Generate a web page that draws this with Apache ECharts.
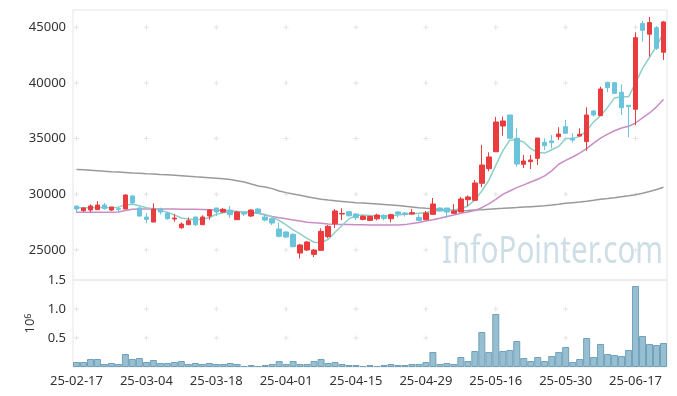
<!DOCTYPE html>
<html><head><meta charset="utf-8">
<script src="https://cdn.jsdelivr.net/npm/echarts@6/dist/echarts.min.js"></script>
<style>html,body{margin:0;padding:0;background:#fff}#c{width:677px;height:396px}</style>
</head><body><div id="c"></div>
<script>
const dates = ['25-02-17','25-02-18','25-02-19','25-02-20','25-02-21','25-02-24','25-02-25','25-02-26','25-02-27','25-02-28',
'25-03-04','25-03-05','25-03-06','25-03-07','25-03-10','25-03-11','25-03-12','25-03-13','25-03-14','25-03-17',
'25-03-18','25-03-19','25-03-20','25-03-21','25-03-24','25-03-25','25-03-26','25-03-27','25-03-28','25-03-31',
'25-04-01','25-04-02','25-04-03','25-04-04','25-04-07','25-04-08','25-04-09','25-04-10','25-04-11','25-04-14',
'25-04-15','25-04-16','25-04-17','25-04-18','25-04-21','25-04-22','25-04-23','25-04-24','25-04-25','25-04-28',
'25-04-29','25-04-30','25-05-02','25-05-07','25-05-08','25-05-09','25-05-12','25-05-13','25-05-14','25-05-15',
'25-05-16','25-05-19','25-05-20','25-05-21','25-05-22','25-05-23','25-05-26','25-05-27','25-05-28','25-05-29',
'25-05-30','25-06-02','25-06-04','25-06-05','25-06-09','25-06-10','25-06-11','25-06-12','25-06-13','25-06-16',
'25-06-17','25-06-18','25-06-19','25-06-20','25-06-23'];

const opens = [28950,28530,28590,28620,29040,28590,28710,28680,29850,28770,
27960,27510,28680,28320,27780,27000,27270,27960,27270,28050,
28770,28410,28590,27720,28320,28050,28680,27960,27810,26890,
26620,26410,24730,25000,24610,24970,26200,27360,28230,28440,
28230,27750,27660,27800,28110,27810,28410,28320,28230,27930,
27720,28200,28770,28770,28290,28410,29520,29460,30990,32300,
33820,36130,37120,35030,32690,32930,33230,34670,34790,35170,
36070,35030,35230,34730,37480,37060,40050,40020,39160,37990,
37630,45320,44370,44950,42750];
const closes = [28680,28770,28950,29040,28710,28860,28650,29940,29220,28050,
27750,28680,28410,27810,27870,27330,27630,27270,27960,28590,
28410,28650,28170,28410,28230,28590,28320,27690,27420,26230,
26170,25300,25450,25720,25000,26680,27130,28500,28290,28080,
27900,28020,28020,28140,27840,28170,28230,28200,28350,27660,
28320,29130,28500,28410,28500,29580,29760,31020,32630,33350,
36490,36580,35030,32720,32990,33080,35050,34360,34630,35410,
35480,34870,35390,37120,37120,39450,39570,39060,37770,37870,
44060,44720,45410,43100,45470];
const lows = [28320,28440,28380,28590,28620,28500,28440,28680,29130,28000,
27400,27510,28200,27720,27540,26910,27270,27150,27270,27720,
28050,28350,27870,27720,28050,27960,28230,27570,27240,26140,
26080,25240,24250,24910,24370,24970,26050,26970,27690,28000,
27690,27660,27630,27660,27660,27480,27930,27990,28200,27570,
27690,28200,28500,27870,28290,28410,28950,29400,30650,32060,
33820,35260,35030,32480,32360,32270,32630,33980,34130,34870,
35480,34630,35200,33910,36970,37060,39160,39060,37120,35120,
36200,43700,42350,42950,42060];
const highs = [28950,28860,29100,29400,29220,28860,28860,30000,29940,28860,
28320,29190,28800,28410,28230,27480,27930,27990,28110,28680,
28770,28770,28950,28500,28410,28650,28770,28230,27900,27480,
26680,26500,25540,25810,25090,26950,27240,28680,28740,28500,
28320,28110,28050,28260,28200,28260,28500,28410,28680,28200,
28500,29670,28800,28770,29130,29760,29900,31280,34430,33770,
36940,36970,37120,35920,33530,33530,35050,35030,35320,36020,
36670,35480,35920,37810,37570,39660,40100,40050,39850,38000,
44540,45550,45930,45100,45560];
const volumes = [86000,86000,138000,138000,52000,69000,52000,224000,138000,155000,
86000,121000,69000,69000,86000,103000,52000,69000,52000,69000,
52000,52000,69000,52000,17000,34000,17000,34000,52000,103000,
52000,103000,52000,52000,103000,138000,69000,86000,52000,34000,
34000,17000,34000,17000,34000,52000,34000,34000,52000,52000,
86000,259000,52000,69000,52000,172000,103000,276000,603000,259000,
914000,276000,293000,448000,155000,103000,172000,103000,190000,259000,
345000,86000,138000,500000,172000,397000,224000,207000,190000,293000,
1396000,534000,397000,379000,414000];
const ma5 = [28800,28800,28800,28820,28830,28800,28850,29050,29100,28980,
28800,28700,28550,28400,28150,27870,27780,27720,27760,27900,
28200,28350,28440,28440,28440,28400,28300,28200,27950,27650,
27250,26800,26450,26050,25700,25650,25950,26600,27200,27800,
28100,28150,28100,28050,28050,28080,28150,28200,28250,28300,
28350,28500,28550,28550,28600,28700,28950,29500,30300,31250,
32600,33900,34850,34900,34700,34100,33750,33700,34000,34300,
35000,35000,35200,35700,36500,37050,37800,38650,38750,38750,
40000,41300,42300,43300,44500];
const ma20 = [28400,28400,28400,28400,28400,28400,28420,28550,28650,28680,
28690,28690,28690,28680,28680,28670,28660,28650,28640,28620,
28600,28560,28510,28460,28410,28350,28300,28150,28000,27900,
27800,27700,27600,27500,27450,27400,27340,27310,27290,27280,
27270,27260,27250,27245,27240,27240,27250,27280,27380,27480,
27600,27720,27850,28000,28150,28290,28420,28550,28800,29150,
29550,30000,30300,30600,30850,31100,31350,31650,32100,32700,
33050,33350,33700,34100,34600,35050,35400,35700,35950,36100,
36400,36850,37300,37850,38500];
const ma120 = [32230,32200,32160,32120,32080,32030,32000,31960,31920,31890,
31850,31820,31780,31750,31710,31670,31630,31580,31540,31490,
31440,31390,31320,31220,31100,30920,30750,30660,30510,30300,
30150,30030,29910,29790,29670,29550,29480,29420,29360,29300,
29250,29210,29170,29130,29090,29040,28990,28930,28870,28800,
28740,28700,28650,28600,28550,28530,28550,28590,28620,28670,
28710,28740,28780,28810,28850,28890,28930,28970,29030,29100,
29190,29250,29310,29380,29460,29550,29620,29700,29790,29870,
29960,30090,30250,30430,30630];
const priceTicks = [25000,30000,35000,40000,45000];
const volTicks = [500000,1000000];
const labelEvery = 10;

const candleData = dates.map((d,i)=>[opens[i],closes[i],lows[i],highs[i]]);
const labelIdx = dates.map((d,i)=>i).filter(i=>i%labelEvery===0);
const crossPrice = [];
labelIdx.forEach(i=>priceTicks.forEach(v=>crossPrice.push([dates[i],v])));
const crossVol = [];
labelIdx.forEach(i=>volTicks.forEach(v=>crossVol.push([dates[i],v])));
const plus = 'path://M2,0H3V2H5V3H3V5H2V3H0V2H2Z';
const txt = {fontSize:13,color:'#333',fontFamily:'Noto Sans'};

const chart = echarts.init(document.getElementById('c'),null,{renderer:'canvas'});
chart.setOption({
  animation:false,
  backgroundColor:'#fff',
  grid:[
    {left:73,right:10,top:10,height:270,show:true,borderColor:'#e6e6e6',borderWidth:1,backgroundColor:'transparent'},
    {left:73,right:10,top:280,height:87,show:true,borderColor:'#e6e6e6',borderWidth:1,backgroundColor:'transparent'}
  ],
  xAxis:[
    {type:'category',gridIndex:0,data:dates,boundaryGap:true,axisLine:{show:false},axisTick:{show:false},axisLabel:{show:false},splitLine:{show:false}},
    {type:'category',gridIndex:1,data:dates,boundaryGap:true,axisLine:{show:false},axisTick:{show:false},
     axisLabel:Object.assign({interval:labelEvery-1,margin:8},txt),splitLine:{show:false}}
  ],
  yAxis:[
    {type:'value',gridIndex:0,min:22310,max:46540,splitNumber:5,scale:true,
     axisLine:{show:false},axisTick:{show:false},splitLine:{show:false},
     axisLabel:Object.assign({margin:7,showMinLabel:false,showMaxLabel:false,
       formatter:v=>priceTicks.includes(v)?String(v):''},txt)},
    {type:'value',gridIndex:1,min:0,max:1500000,interval:500000,
     axisLine:{show:false},axisTick:{show:false},splitLine:{show:false},
     axisLabel:Object.assign({margin:7,showMinLabel:false,formatter:v=>(v/1e6).toFixed(1)},txt),
     name:'10{s|6}',nameLocation:'middle',nameRotate:90,nameGap:31,
     nameTextStyle:{fontSize:13,color:'#333',fontFamily:'Noto Sans',rich:{s:{fontSize:9,verticalAlign:'top',color:'#333',fontFamily:'Noto Sans'}}}}
  ],
  graphic:[{type:'text',left:442,top:233,z:0,silent:true,
    style:{text:'InfoPointer.com',fontSize:38,fontFamily:'Noto Sans',fill:'rgba(178,204,218,0.65)'},scaleX:0.78}],
  series:[
    {type:'scatter',xAxisIndex:0,yAxisIndex:0,data:crossPrice,symbol:plus,symbolSize:5,itemStyle:{color:'#dcdcdc'},z:1,silent:true},
    {type:'scatter',xAxisIndex:1,yAxisIndex:1,data:crossVol,symbol:plus,symbolSize:5,itemStyle:{color:'#dcdcdc'},z:1,silent:true},
    {type:'line',xAxisIndex:0,yAxisIndex:0,data:ma120,symbol:'none',lineStyle:{color:'#9a9a9a',width:1.5},z:2},
    {type:'line',xAxisIndex:0,yAxisIndex:0,data:ma20,symbol:'none',lineStyle:{color:'#c98dc6',width:1.5},z:2},
    {type:'line',xAxisIndex:0,yAxisIndex:0,data:ma5,symbol:'none',lineStyle:{color:'#8fd0c6',width:1.5},z:2},
    {type:'candlestick',xAxisIndex:0,yAxisIndex:0,data:candleData,barWidth:5,z:3,
     itemStyle:{color:'#ea3b3f',color0:'#6bc4db',borderColor:'#ea3b3f',borderColor0:'#6bc4db',borderWidth:1}},
    {type:'bar',xAxisIndex:1,yAxisIndex:1,data:volumes,barCategoryGap:'0%',z:3,
     itemStyle:{color:'#97bfd1',borderColor:'#70a1b9',borderWidth:1}}
  ]
});
</script></body></html>
